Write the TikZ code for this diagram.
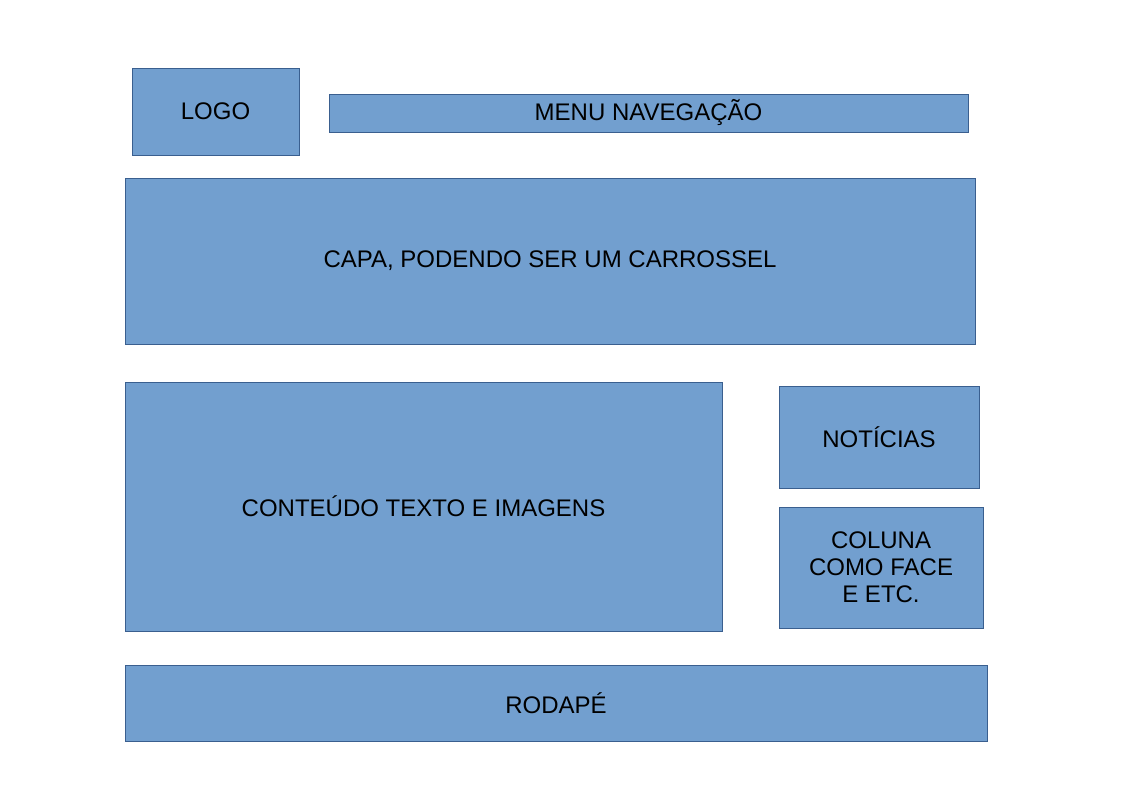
\documentclass[tikz,border=0pt]{standalone}
\usepackage{fontspec}
\setmainfont{Liberation Sans}
\definecolor{caixa}{HTML}{729FCF}
\definecolor{borda}{HTML}{3A5F8F}
\begin{document}
\begin{tikzpicture}[x=1pt,y=-1pt,
		bloco/.style={draw=borda,fill=caixa,line width=0.7pt,inner sep=0pt,outer sep=0pt,
			align=center,font=\fontsize{24}{27}\selectfont}]
			% Área da página
			\useasboundingbox (0,0) rectangle (1123,794);
			
			% Cabeçalho
			\node[bloco,minimum width=167pt,minimum height=87pt] (logo) at (215.5,111.5) {LOGO};
			\node[bloco,minimum width=639pt,minimum height=38pt] (menu) at (648.5,113) {MENU NAVEGAÇÃO};
			
			% Capa
			\node[bloco,minimum width=850pt,minimum height=166pt] (capa) at (550,261) {CAPA, PODENDO SER UM CARROSSEL};
			
			% Conteúdo e coluna lateral
			\node[bloco,minimum width=597pt,minimum height=249pt] (conteudo) at (423.5,506.5) {CONTEÚDO TEXTO E IMAGENS};
			\node[bloco,minimum width=200pt,minimum height=102pt] (noticias) at (879,437) {NOTÍCIAS};
			\node[bloco,minimum width=204pt,minimum height=121pt] (coluna) at (881,567.5) {COLUNA\\COMO FACE\\E ETC.};
			
			% Rodapé
			\node[bloco,minimum width=862pt,minimum height=76pt] (rodape) at (556,703) {RODAPÉ};
	\end{tikzpicture}
\end{document}
